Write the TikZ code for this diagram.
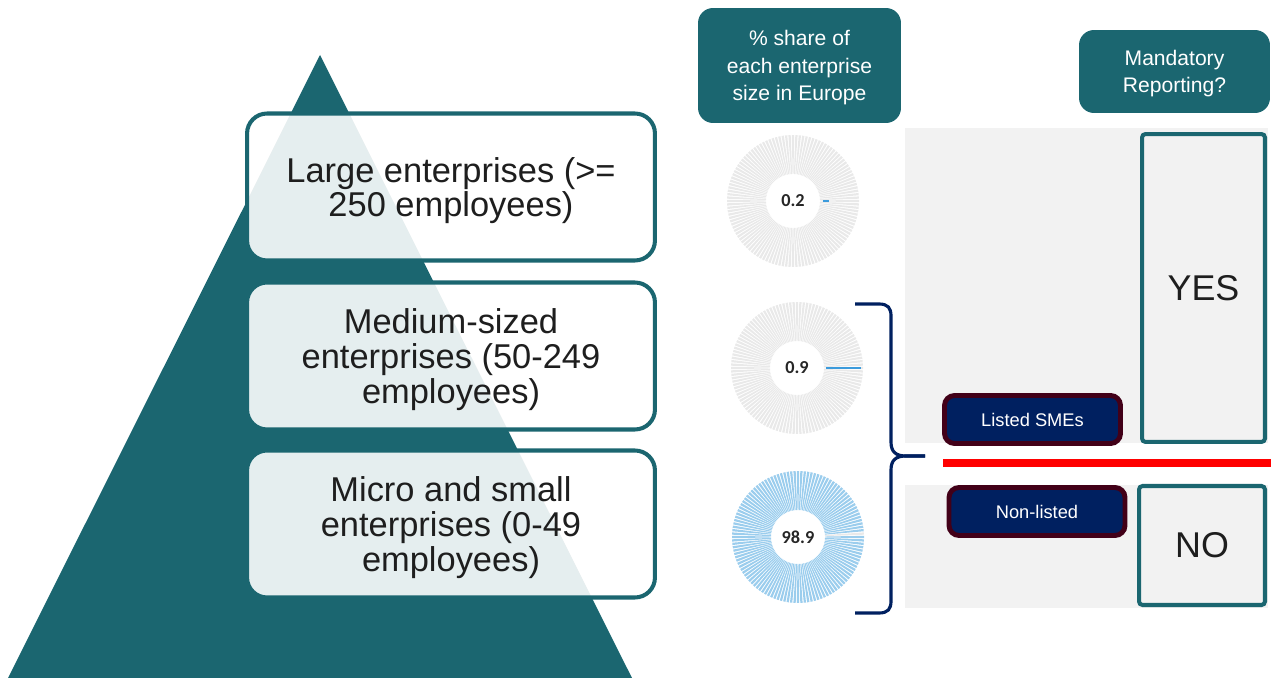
\documentclass[tikz,border=0pt]{standalone}
\usepackage{fontspec}
\setmainfont{Liberation Sans}
\newfontfamily\chartfont{Carlito}

\definecolor{pyrteal}{RGB}{27,102,112}
\definecolor{navy}{RGB}{0,32,96}
\definecolor{tagrim}{RGB}{66,0,24}
\definecolor{panel}{RGB}{242,242,242}
\definecolor{spokegray}{RGB}{233,233,233}
\definecolor{spokeblue}{RGB}{155,205,237}
\definecolor{barblue}{RGB}{60,155,220}
\definecolor{txtdark}{RGB}{30,30,30}
\definecolor{pcttext}{RGB}{38,38,38}

\begin{document}
\begin{tikzpicture}[x=0.02cm,y=-0.02cm,
    tier/.style={draw=pyrteal,line width=2.3pt,rounded corners=0.4cm,fill=white,fill opacity=0.89,text opacity=1,
      minimum width=8.16cm,minimum height=2.94cm,inner sep=0pt,align=center,text=txtdark,text depth=0pt,
      font=\fontsize{19.6}{19.8}\selectfont},
    head/.style={fill=pyrteal,rounded corners=0.3cm,inner sep=0pt,align=center,text=white,text depth=0pt,
      font=\fontsize{12}{15.5}\selectfont},
    answer/.style={draw=pyrteal,line width=2.3pt,fill=panel,rounded corners=2pt,inner sep=0pt,text=txtdark,
      font=\fontsize{20.4}{24}\selectfont},
    tag/.style={draw=tagrim,line width=2.8pt,fill=navy,rounded corners=0.2cm,minimum width=3.52cm,
      minimum height=0.96cm,inner sep=0pt,text=white,font=\fontsize{10.4}{12}\selectfont},
    pct/.style={font=\chartfont\bfseries\fontsize{10.4}{12}\selectfont,text=pcttext}]
  \useasboundingbox (0,0) rectangle (1271,678);

  % pyramid and its tiers
  \fill[pyrteal] (320,55) -- (632,678) -- (8,678) -- cycle;
  \node[tier] (large) at (451,187) {Large enterprises (>=\\250 employees)};
  \node[tier] (medium) at (451,356) {Medium-sized\\enterprises (50-249\\employees)};
  \node[tier] (micro) at (451,524) {Micro and small\\enterprises (0-49\\employees)};

  % column headers
  \node[head,minimum width=4.06cm,minimum height=2.3cm] (share) at (799.5,65.5)
    {\% share of\\each enterprise\\size in Europe};
  \node[head,minimum width=3.82cm,minimum height=1.66cm] (mandatory) at (1174.5,71.5)
    {Mandatory\\Reporting?};

  % radial share charts, one thin wedge per step
  \foreach \cx/\cy in {793/201,797/368}
    \foreach \a in {0,3,...,357}
      \fill[spokegray,shift={(\cx,\cy)}] ({\a-1}:27) -- ({\a-1}:66) -- ({\a+1}:66) -- ({\a+1}:27) -- cycle;
  \foreach \a in {0,3,...,354}
    \fill[spokeblue,shift={(798,537)}] ({\a-1}:27) -- ({\a-1}:66) -- ({\a+1}:66) -- ({\a+1}:27) -- cycle;
  \fill[spokegray,shift={(798,537)}] (356:27) -- (356:66) -- (358:66) -- (358:27) -- cycle;
  \draw[barblue,line width=1.3pt] (823,201) -- (829,201);
  \draw[barblue,line width=1.3pt] (826,368) -- (861,368);
  \node[pct] (pcLarge) at (793,201) {0.2};
  \node[pct] (pcMedium) at (797,368) {0.9};
  \node[pct] (pcMicro) at (798,537) {98.9};

  % brace over the SME charts
  \coordinate (braceTop) at (855,304);
  \coordinate (braceTip) at (925,456);
  \coordinate (braceBot) at (855,613);
  \draw[navy,line width=1.8pt] (braceTop) -- (879,304) .. controls (888,304) and (891,308) .. (891,316)
    -- (891,442) .. controls (891,452) and (896,456) .. (906,456) -- (braceTip);
  \draw[navy,line width=1.8pt] (braceTip) -- (906,456) .. controls (896,456) and (891,460) .. (891,470)
    -- (891,601) .. controls (891,609) and (888,613) .. (879,613) -- (braceBot);

  % reporting panels
  \fill[panel] (905,128) rectangle (1268,443);
  \fill[panel] (905,485) rectangle (1268,608);
  \node[answer,minimum width=2.46cm,minimum height=6.16cm] (yes) at (1203.5,288) {YES};
  \node[answer,minimum width=2.52cm,minimum height=2.38cm] (no) at (1202,545.5) {NO};
  \node[tag] (listed) at (1032.5,419.5) {Listed SMEs};
  \node[tag] (nonlisted) at (1037,511.5) {Non-listed};

  % split line
  \coordinate (redL) at (943,463);
  \coordinate (redR) at (1271,463);
  \draw[red,line width=4pt] (redL) -- (redR);
\end{tikzpicture}
\end{document}
